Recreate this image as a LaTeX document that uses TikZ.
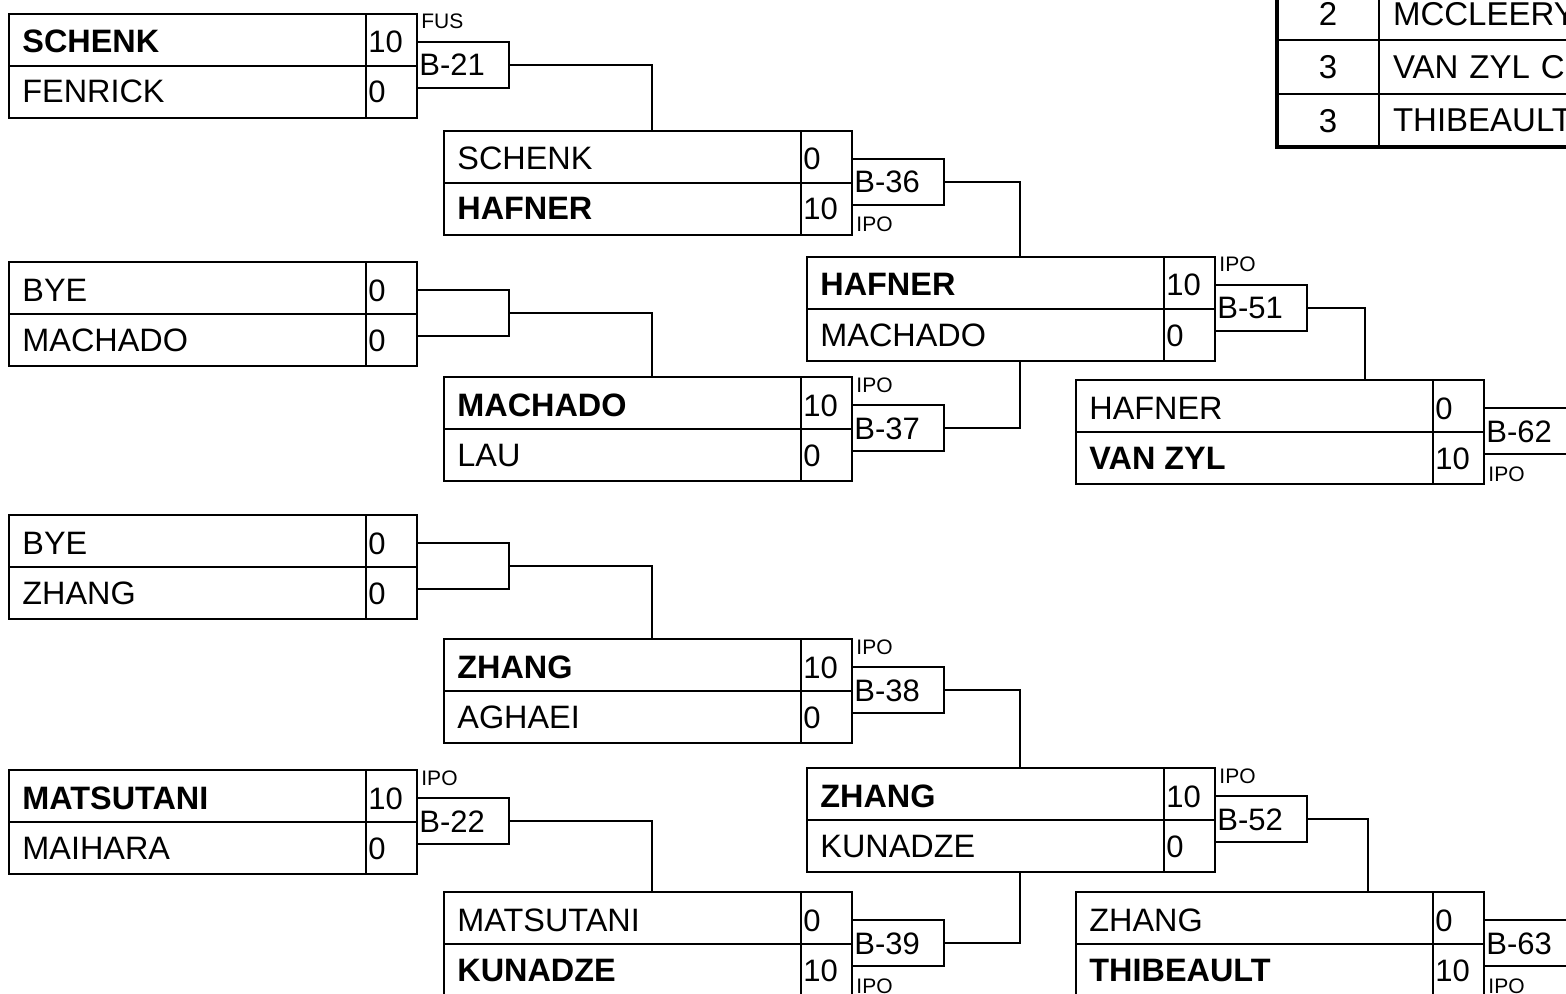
\documentclass[tikz,border=0pt]{standalone}
\usepackage{fontspec}
\setmainfont{Liberation Sans}
\usetikzlibrary{calc}
\tikzset{
  blk/.style={draw, line width=1pt, minimum width=204pt, minimum height=52pt, inner sep=0pt, outer sep=0pt, anchor=north west},
  mbx/.style={draw, line width=1pt, minimum width=46pt, minimum height=23pt, inner sep=0pt, outer sep=0pt, anchor=north west},
  nm/.style={font=\fontsize{16.2}{19}\selectfont, inner sep=0pt, anchor=base west},
  sc/.style={font=\fontsize{15.5}{18}\selectfont, inner sep=0pt, anchor=base west},
  sm/.style={font=\fontsize{10.5}{12}\selectfont, inner sep=0pt, anchor=base west},
  conn/.style={line width=1pt},
  midln/.style={line width=1.3pt},
  tc/.style={draw, line width=1pt, minimum height=26.75pt, inner sep=0pt, outer sep=0pt, anchor=north west, font=\fontsize{16.5}{19}\selectfont},
  tn/.style={tc, text width=146.5pt, inner xsep=7pt, align=left},
}
\newcommand{\mblk}[8]{%
  \node[blk] (#1) at (#2,#3) {};
  \draw[midln] (#1.west) -- (#1.east);
  \draw[line width=1pt] ([xshift=-25.5pt]#1.north east) -- ([xshift=-25.5pt]#1.south east);
  \node[nm] (#1n1) at ([xshift=6.5pt,yshift=-19.5pt]#1.north west) {\ifnum#8=1 \bfseries\fi #4};
  \node[sc] (#1s1) at ([xshift=-24.5pt,yshift=-19.5pt]#1.north east) {#5};
  \node[nm] (#1n2) at ([xshift=6.5pt,yshift=-44.5pt]#1.north west) {\ifnum#8=2 \bfseries\fi #6};
  \node[sc] (#1s2) at ([xshift=-24.5pt,yshift=-44.5pt]#1.north east) {#7};
}
\newcommand{\mtch}[3]{%
  \node[mbx] (#1) at ([yshift=-14pt]#2.north east) {};
  \node[sc] (#1t) at ([xshift=1pt,yshift=-5.5pt]#1.west) {#3};
}
\newcommand{\toplab}[2]{\node[sm] (#1u) at ([xshift=2pt,yshift=6.5pt]#1.north west) {#2};}
\newcommand{\botlab}[2]{\node[sm] (#1d) at ([xshift=2pt,yshift=-13.5pt]#1.south west) {#2};}
\begin{document}
\begin{tikzpicture}[x=0.5pt,y=-0.5pt]
\useasboundingbox (0,0) rectangle (1566,994);
% round 1
\mblk{b1}{9}{14}{SCHENK}{10}{FENRICK}{0}{1}
\mtch{m21}{b1}{B-21}\toplab{m21}{FUS}
\mblk{b2}{9}{262}{BYE}{0}{MACHADO}{0}{0}
\mtch{me1}{b2}{}
\mblk{b3}{9}{515}{BYE}{0}{ZHANG}{0}{0}
\mtch{me2}{b3}{}
\mblk{b4}{9}{770}{MATSUTANI}{10}{MAIHARA}{0}{1}
\mtch{m22}{b4}{B-22}\toplab{m22}{IPO}
% round 2
\mblk{c1}{444}{131}{SCHENK}{0}{HAFNER}{10}{2}
\mtch{m36}{c1}{B-36}\botlab{m36}{IPO}
\mblk{c2}{444}{377}{MACHADO}{10}{LAU}{0}{1}
\mtch{m37}{c2}{B-37}\toplab{m37}{IPO}
\mblk{c3}{444}{639}{ZHANG}{10}{AGHAEI}{0}{1}
\mtch{m38}{c3}{B-38}\toplab{m38}{IPO}
\mblk{c4}{444}{892}{MATSUTANI}{0}{KUNADZE}{10}{2}
\mtch{m39}{c4}{B-39}\botlab{m39}{IPO}
% round 3
\mblk{d1}{807}{257}{HAFNER}{10}{MACHADO}{0}{1}
\mtch{m51}{d1}{B-51}\toplab{m51}{IPO}
\mblk{d2}{807}{768}{ZHANG}{10}{KUNADZE}{0}{1}
\mtch{m52}{d2}{B-52}\toplab{m52}{IPO}
% round 4
\mblk{e1}{1076}{380}{HAFNER}{0}{VAN ZYL}{10}{2}
\mtch{m62}{e1}{B-62}\botlab{m62}{IPO}
\mblk{e2}{1076}{892}{ZHANG}{0}{THIBEAULT}{10}{2}
\mtch{m63}{e2}{B-63}\botlab{m63}{IPO}
% connectors
\draw[conn] (m21.east) -| ([xshift=2pt]c1.north);
\draw[conn] (me1.east) -| ([xshift=2pt]c2.north);
\draw[conn] (me2.east) -| ([xshift=2pt]c3.north);
\draw[conn] (m22.east) -| ([xshift=2pt]c4.north);
\draw[conn] (m36.east) -| ([xshift=4.5pt]d1.north);
\draw[conn] (m37.east) -| ([xshift=4.5pt]d1.south);
\draw[conn] (m38.east) -| ([xshift=4.5pt]d2.north);
\draw[conn] (m39.east) -| ([xshift=4.5pt]d2.south);
\draw[conn] (m51.east) -| ([xshift=42.5pt]e1.north);
\draw[conn] (m52.east) -| ([xshift=44pt]e2.north);
% standings table
\node[tc, minimum width=51pt] (t1a) at (1277,-13) {2};
\node[tn] (t1b) at (t1a.north east) {MCCLEERY};
\node[tc, minimum width=51pt] (t2a) at (t1a.south west) {3};
\node[tn] (t2b) at (t2a.north east) {VAN ZYL C};
\node[tc, minimum width=51pt] (t3a) at (t2a.south west) {3};
\node[tn] (t3b) at (t3a.north east) {THIBEAULT};
\draw[line width=2pt] (t1a.north west) -- (t3a.south west) -- (t3b.south east);
\end{tikzpicture}
\end{document}
